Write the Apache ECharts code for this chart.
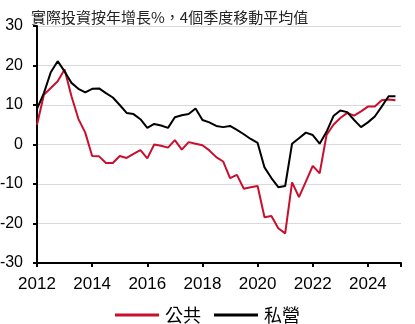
<!DOCTYPE html>
<html>
<head>
<meta charset="utf-8">
<script src="https://cdn.jsdelivr.net/npm/echarts@6/dist/echarts.min.js"></script>
<style>
html,body{margin:0;padding:0;background:#fff;}
#c{width:415px;height:324px;}
</style>
</head>
<body>
<div id="c"></div>
<script>
// Quarters 2012Q1 .. 2025Q1
const quarters = [
 "2012Q1","2012Q2","2012Q3","2012Q4","2013Q1","2013Q2","2013Q3","2013Q4",
 "2014Q1","2014Q2","2014Q3","2014Q4","2015Q1","2015Q2","2015Q3","2015Q4",
 "2016Q1","2016Q2","2016Q3","2016Q4","2017Q1","2017Q2","2017Q3","2017Q4",
 "2018Q1","2018Q2","2018Q3","2018Q4","2019Q1","2019Q2","2019Q3","2019Q4",
 "2020Q1","2020Q2","2020Q3","2020Q4","2021Q1","2021Q2","2021Q3","2021Q4",
 "2022Q1","2022Q2","2022Q3","2022Q4","2023Q1","2023Q2","2023Q3","2023Q4",
 "2024Q1","2024Q2","2024Q3","2024Q4","2025Q1"
];
const publicInv = [
 5.0,12.6,14.3,16.0,19.0,12.2,6.5,3.0,
 -2.9,-3.0,-4.7,-4.7,-2.9,-3.4,-2.4,-1.4,
 -3.5,0.0,-0.3,-0.8,1.1,-1.3,0.6,0.2,
 -0.2,-1.5,-3.2,-4.3,-8.5,-7.7,-11.2,-10.8,
 -10.5,-18.4,-18.1,-21.2,-22.5,-9.6,-13.3,-9.4,
 -5.4,-7.3,2.4,5.0,6.7,8.0,7.3,8.4,
 9.6,9.6,11.2,11.4,11.2
];
const privateInv = [
 9.0,13.0,18.3,21.1,18.5,15.6,14.1,13.2,
 14.1,14.2,13.0,11.9,10.0,8.0,7.7,6.4,
 4.2,5.2,4.8,4.2,6.9,7.4,7.7,9.1,
 6.2,5.6,4.7,4.4,4.7,3.7,2.6,1.4,
 0.4,-5.8,-8.5,-10.8,-10.5,0.2,1.6,3.0,
 2.4,0.2,3.2,7.2,8.6,8.2,6.2,4.4,
 5.6,7.1,9.6,12.2,12.2
];
const seriesNames = ["公共","私營"];
const titleText = "實際投資按年增長%，4個季度移動平均值";

function qToNum(q){ return parseInt(q.slice(0,4)) + (parseInt(q.slice(5)) - 1) / 4; }
const xs = quarters.map(qToNum);
const pubData = xs.map((x,i)=>[x, publicInv[i]]);
const privData = xs.map((x,i)=>[x, privateInv[i]]);

const numFont = "'Liberation Sans Narrow','Arial Narrow','Liberation Sans',Arial,sans-serif";
const cjkFont = "'Noto Sans CJK TC','Noto Sans CJK SC',sans-serif";

const chart = echarts.init(document.getElementById('c'), null, {renderer:'canvas'});
chart.setOption({
  animation:false,
  backgroundColor:'#fff',
  title:{
    text:titleText, left:26, top:5,
    textStyle:{fontFamily:cjkFont, fontSize:15, fontWeight:'normal', color:'#222'}
  },
  legend:{
    data:seriesNames, left:'center', top:301,
    icon:'rect', itemWidth:44, itemHeight:3, itemGap:13,
    textStyle:{fontFamily:cjkFont, fontSize:18, color:'#000', padding:[0,0,0,1]}
  },
  grid:{left:37, right:14, top:26, bottom:61, containLabel:false, outerBoundsMode:'none'},
  xAxis:[{
    type:'value', min:2012, max:2025.2, interval:2,
    axisLine:{show:false}, axisTick:{show:false}, splitLine:{show:false},
    axisLabel:{margin:13, showMaxLabel:false, fontFamily:numFont, fontSize:17, color:'#000',
      formatter:(v)=>String(v)}
  },{
    type:'value', min:2012, max:2025.2, interval:2, position:'bottom',
    axisLine:{show:true, onZero:true, lineStyle:{color:'#000', width:2}},
    axisTick:{show:true, length:4, lineStyle:{color:'#000', width:2}},
    axisLabel:{show:false}, splitLine:{show:false}
  }],
  yAxis:{
    type:'value', min:-30, max:30, interval:10,
    axisLine:{show:true, lineStyle:{color:'#000', width:2}},
    axisTick:{show:true, length:4, lineStyle:{color:'#000', width:2}},
    splitLine:{show:true, lineStyle:{color:'#d9d9d9', width:1}},
    axisLabel:{margin:14, fontFamily:numFont, fontSize:16, color:'#000'}
  },
  series:[{
    name:seriesNames[0], type:'line', xAxisIndex:0, data:pubData,
    showSymbol:false, symbol:'none', color:'#C8102E',
    lineStyle:{color:'#C8102E', width:2}
  },{
    name:seriesNames[1], type:'line', xAxisIndex:0, data:privData,
    showSymbol:false, symbol:'none', color:'#000',
    lineStyle:{color:'#000', width:2}
  }]
});
</script>
</body>
</html>
